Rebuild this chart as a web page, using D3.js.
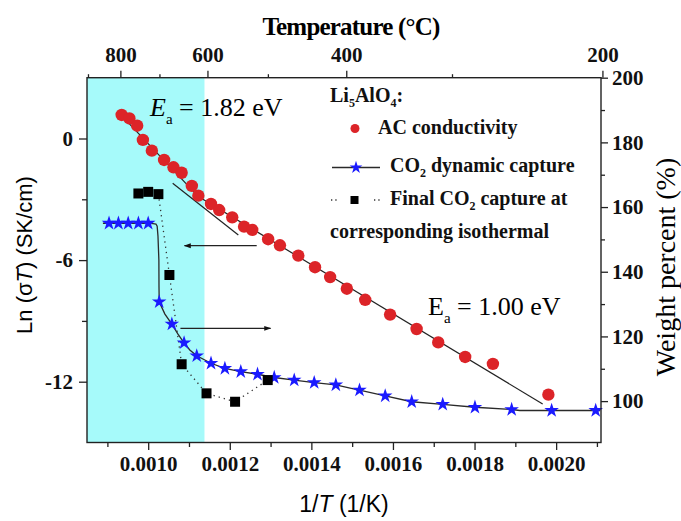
<!DOCTYPE html>
<html>
<head>
<meta charset="utf-8">
<script src="https://cdn.jsdelivr.net/npm/d3@7"></script>
<style>
  body { margin: 0; background: #fff; }
</style>
</head>
<body>
<svg id="chart" width="681" height="521"></svg>
<script>
// ---- data ----
// AC conductivity: 1/T (1/K) and ln(sigma*T)
const acInvT = [0.000935, 0.000954, 0.000973, 0.000987, 0.001009, 0.001039, 0.001062, 0.001082,
  0.001107, 0.001123, 0.001154, 0.001174, 0.001206, 0.001235, 0.001255, 0.001294, 0.001323,
  0.001368, 0.001409, 0.001446, 0.001487, 0.001532, 0.001593, 0.001658, 0.001711, 0.001777,
  0.001845, 0.001981];
const acLnSigmaT = [1.16, 0.99, 0.63, -0.07, -0.60, -1.06, -1.42, -1.69, -2.34, -2.82, -3.23,
  -3.53, -3.89, -4.35, -4.51, -4.97, -5.27, -5.78, -6.35, -6.84, -7.41, -7.96, -8.69, -9.40,
  -10.06, -10.78, -11.12, -12.64];

// Arrhenius fits (end points)
const fitHighInvT = [0.000926, 0.001122];
const fitHighLn = [1.31, -2.84];
const fitLowInvT = [0.0011147, 0.001967];
const fitLowLn = [-2.76, -13.10];
// guide segment across the change of slope
const guideInvT = [0.001060, 0.001221];
const guideLn = [-2.21, -4.76];

// CO2 dynamic capture (TGA trace) and its star markers, weight %
const dynCurveInvT = [0.000889, 0.000904, 0.000927, 0.000951, 0.000976, 0.001000, 0.001012,
  0.001019, 0.001022, 0.001024, 0.0010262, 0.0010265, 0.001027, 0.001041, 0.001058, 0.001073,
  0.001088, 0.001102, 0.001119, 0.001154, 0.001188, 0.001227, 0.001268, 0.001309, 0.001358,
  0.001407, 0.001460, 0.001495, 0.001518, 0.001581, 0.001646, 0.001722, 0.001801, 0.001891,
  0.001911, 0.001989, 0.002097, 0.002108];
const dynCurveWeight = [155.0, 155.0, 155.0, 155.0, 155.0, 155.0, 154.9, 154.75, 154.1, 151.0,
  143.6, 135.3, 130.7, 126.9, 123.8, 120.7, 118.0, 115.8, 114.0, 111.7, 110.1, 109.1, 108.3,
  107.3, 106.5, 105.7, 105.0, 104.0, 103.4, 101.6, 99.8, 99.0, 98.1, 97.4, 97.1, 97.1, 97.1, 97.1];
const dynStarInvT = [0.000904, 0.000927, 0.000951, 0.000976, 0.001000, 0.001027, 0.001058,
  0.001088, 0.001119, 0.001154, 0.001188, 0.001227, 0.001268, 0.001309, 0.001358, 0.001407,
  0.001460, 0.001518, 0.001581, 0.001646, 0.001722, 0.001801, 0.001891, 0.001989, 0.002097];
const dynStarWeight = [155.0, 155.0, 155.0, 155.0, 155.0, 130.7, 123.8, 118.0, 114.0, 111.7,
  110.1, 109.1, 108.3, 107.3, 106.5, 105.7, 105.0, 103.4, 101.6, 99.8, 99.0, 98.1, 97.4, 97.1, 97.1];

// Final CO2 capture at the corresponding isothermal
const isoInvT = [0.000976, 0.001000, 0.001025, 0.001052, 0.001082, 0.001143, 0.001213, 0.001293];
const isoWeight = [164.2, 164.7, 164.0, 139.0, 111.4, 102.4, 99.8, 106.5];

// shaded high-temperature band
const bandInvT = [0.00085, 0.001138];

// axis ticks
const bottomTicks = [0.0010, 0.0012, 0.0014, 0.0016, 0.0018, 0.0020];
const bottomMinor = [0.0009, 0.0011, 0.0013, 0.0015, 0.0017, 0.0019, 0.0021];
const leftTicks = [-12, -6, 0];
const leftMinor = [-9, -3];
const rightTicks = [100, 120, 140, 160, 180, 200];
const rightMinor = [110, 130, 150, 170, 190];
const topTempC = [800, 600, 400, 200];
const topMinorC = [900, 700, 500, 300];

// arrows pointing to the axis each series belongs to
const arrowLeftInvT = [0.001266, 0.001089];
const arrowLeftLn = -5.29;
const arrowRightInvT = [0.001079, 0.001300];
const arrowRightWeight = 122.5;

// ---- drawing ----
const SERIF = "'Liberation Serif','Times New Roman',serif";
const SANS = "'Liberation Sans',Arial,sans-serif";
const plot = { left: 87, right: 601, top: 77.7, bottom: 442.5 };

const x = d3.scaleLinear().domain([0.00085, 0.00211]).range([plot.left, plot.right]);
const yL = d3.scaleLinear().domain([-15, 3]).range([plot.bottom, plot.top]);
const yR = d3.scaleLinear().domain([87.2, 200]).range([plot.bottom, plot.top]);
const invT = c => 1 / (c + 273.15);

const svg = d3.select("#chart");
const defs = svg.append("defs");
defs.append("marker").attr("id", "head").attr("viewBox", "0 0 10 10")
  .attr("refX", 9).attr("refY", 5).attr("markerWidth", 10).attr("markerHeight", 7)
  .attr("markerUnits", "userSpaceOnUse").attr("orient", "auto")
  .append("path").attr("d", "M0,1.5 L10,5 L0,8.5 Z").attr("fill", "#111");

// band
svg.append("rect")
  .attr("x", x(bandInvT[0])).attr("y", plot.top)
  .attr("width", x(bandInvT[1]) - x(bandInvT[0]))
  .attr("height", plot.bottom - plot.top)
  .attr("fill", "#a6fafa");

// fits
const fitLine = d3.line().x(d => x(d[0])).y(d => yL(d[1]));
[[fitHighInvT, fitHighLn], [fitLowInvT, fitLowLn], [guideInvT, guideLn]].forEach(([xs, ys]) => {
  svg.append("path").attr("d", fitLine(d3.zip(xs, ys)))
    .attr("stroke", "#222").attr("stroke-width", 1.2).attr("fill", "none");
});

// dynamic capture trace
const wLine = d3.line().x(d => x(d[0])).y(d => yR(d[1]));
svg.append("path").attr("d", wLine(d3.zip(dynCurveInvT, dynCurveWeight)))
  .attr("stroke", "#2a2a2a").attr("stroke-width", 1.3).attr("fill", "none");

// isothermal capture dotted connector
svg.append("path").attr("d", wLine(d3.zip(isoInvT, isoWeight).slice(2)))
  .attr("stroke", "#333").attr("stroke-width", 1.3).attr("fill", "none")
  .attr("stroke-dasharray", "1.3,4");

// AC conductivity circles
svg.append("g").selectAll("circle").data(d3.zip(acInvT, acLnSigmaT)).join("circle")
  .attr("cx", d => x(d[0])).attr("cy", d => yL(d[1])).attr("r", 6.2)
  .attr("fill", "#dc2428");

// stars
const star = d3.symbol(d3.symbolStar, 66);
svg.append("g").selectAll("path").data(d3.zip(dynStarInvT, dynStarWeight)).join("path")
  .attr("d", star).attr("transform", d => `translate(${x(d[0])},${yR(d[1])})`)
  .attr("fill", "#1a1aff");

// squares
const square = d3.symbol(d3.symbolSquare, 100);
svg.append("g").selectAll("path").data(d3.zip(isoInvT, isoWeight)).join("path")
  .attr("d", square).attr("transform", d => `translate(${x(d[0])},${yR(d[1])})`)
  .attr("fill", "#000");

// arrows
svg.append("line")
  .attr("x1", x(arrowLeftInvT[0])).attr("x2", x(arrowLeftInvT[1]))
  .attr("y1", yL(arrowLeftLn)).attr("y2", yL(arrowLeftLn))
  .attr("stroke", "#222").attr("stroke-width", 1.2).attr("marker-end", "url(#head)");
svg.append("line")
  .attr("x1", x(arrowRightInvT[0])).attr("x2", x(arrowRightInvT[1]))
  .attr("y1", yR(arrowRightWeight)).attr("y2", yR(arrowRightWeight))
  .attr("stroke", "#222").attr("stroke-width", 1.2).attr("marker-end", "url(#head)");

// frame
svg.append("rect")
  .attr("x", plot.left).attr("y", plot.top)
  .attr("width", plot.right - plot.left).attr("height", plot.bottom - plot.top)
  .attr("fill", "none").attr("stroke", "#222").attr("stroke-width", 1.4);

// axes
function styleAxis(g) {
  g.select(".domain").remove();
  g.selectAll("line").attr("stroke", "#222").attr("stroke-width", 1.3);
  g.selectAll("text").attr("font-family", SERIF).attr("font-weight", "bold")
    .attr("font-size", 21).attr("fill", "#111");
}
svg.append("g").attr("transform", `translate(0,${plot.bottom})`)
  .call(d3.axisBottom(x).tickValues(bottomTicks).tickFormat(d3.format(".4f")).tickSize(7.5).tickPadding(6))
  .call(styleAxis);
svg.append("g").attr("transform", `translate(0,${plot.bottom})`)
  .call(d3.axisBottom(x).tickValues(bottomMinor).tickFormat("").tickSize(4.5))
  .call(styleAxis);
svg.append("g").attr("transform", `translate(${plot.left},0)`)
  .call(d3.axisLeft(yL).tickValues(leftTicks).tickFormat(d => String(d)).tickSize(8).tickPadding(6))
  .call(styleAxis);
svg.append("g").attr("transform", `translate(${plot.left},0)`)
  .call(d3.axisLeft(yL).tickValues(leftMinor).tickFormat("").tickSize(5))
  .call(styleAxis);
svg.append("g").attr("transform", `translate(${plot.right},0)`)
  .call(d3.axisRight(yR).tickValues(rightTicks).tickSize(7).tickPadding(4))
  .call(styleAxis);
svg.append("g").attr("transform", `translate(${plot.right},0)`)
  .call(d3.axisRight(yR).tickValues(rightMinor).tickFormat("").tickSize(4))
  .call(styleAxis);
svg.append("g").attr("transform", `translate(0,${plot.top})`)
  .call(d3.axisTop(x).tickValues(topTempC.map(invT)).tickFormat((d, i) => topTempC[i]).tickSize(7).tickPadding(9))
  .call(styleAxis);
svg.append("g").attr("transform", `translate(0,${plot.top})`)
  .call(d3.axisTop(x).tickValues(topMinorC.map(invT)).tickFormat("").tickSize(3.5))
  .call(styleAxis);

// axis titles
svg.append("text").attr("x", 351).attr("y", 35).attr("text-anchor", "middle")
  .attr("font-family", SERIF).attr("font-weight", "bold").attr("font-size", 25)
  .attr("letter-spacing", -0.8).text("Temperature  (\u00B0C)");

const bt = svg.append("text").attr("x", 344).attr("y", 512).attr("text-anchor", "middle")
  .attr("font-family", SANS).attr("font-size", 23);
bt.append("tspan").text("1/");
bt.append("tspan").attr("font-style", "italic").text("T");
bt.append("tspan").text(" (1/K)");

const lt = svg.append("text").attr("transform", "translate(32,255) rotate(-90)")
  .attr("text-anchor", "middle").attr("font-family", SANS).attr("font-size", 22);
lt.append("tspan").text("Ln (\u03C3");
lt.append("tspan").attr("font-style", "italic").text("T");
lt.append("tspan").text(") (SK/cm)");

svg.append("text").attr("transform", "translate(675,267) rotate(-90)")
  .attr("text-anchor", "middle").attr("font-family", SERIF).attr("font-size", 28)
  .text("Weight percent (%)");

// activation energy labels
const e1 = svg.append("text").attr("x", 150).attr("y", 116).attr("font-family", SERIF).attr("font-size", 26);
e1.append("tspan").attr("font-style", "italic").text("E");
e1.append("tspan").attr("font-size", 15).attr("dy", 8).text("a");
e1.append("tspan").attr("dy", -8).text(" = 1.82 eV");

const e2 = svg.append("text").attr("x", 428).attr("y", 315).attr("font-family", SERIF).attr("font-size", 26);
e2.append("tspan").text("E");
e2.append("tspan").attr("font-size", 15).attr("dy", 8).text("a");
e2.append("tspan").attr("dy", -8).text(" = 1.00 eV");

// legend
const lg = svg.append("g").attr("font-family", SERIF).attr("font-weight", "bold").attr("font-size", 20).attr("fill", "#111");
const t0 = lg.append("text").attr("x", 330).attr("y", 102);
t0.append("tspan").text("Li");
t0.append("tspan").attr("font-size", 12).attr("dy", 5).text("5");
t0.append("tspan").attr("dy", -5).text("AlO");
t0.append("tspan").attr("font-size", 12).attr("dy", 5).text("4");
t0.append("tspan").attr("dy", -5).text(":");

lg.append("circle").attr("cx", 355).attr("cy", 128.5).attr("r", 4.5).attr("fill", "#dc2428");
lg.append("text").attr("x", 378).attr("y", 134).text("AC conductivity");

lg.append("line").attr("x1", 332).attr("x2", 380).attr("y1", 167.5).attr("y2", 167.5)
  .attr("stroke", "#2a2a2a").attr("stroke-width", 1.3);
lg.append("path").attr("d", d3.symbol(d3.symbolStar, 50)).attr("transform", "translate(356,167.5)").attr("fill", "#1a1aff");
const t2 = lg.append("text").attr("x", 390).attr("y", 172);
t2.append("tspan").text("CO");
t2.append("tspan").attr("font-size", 12).attr("dy", 5).text("2");
t2.append("tspan").attr("dy", -5).text(" dynamic capture");

lg.append("line").attr("x1", 331).attr("x2", 337).attr("y1", 200).attr("y2", 200)
  .attr("stroke", "#333").attr("stroke-width", 1.3).attr("stroke-dasharray", "1.3,3");
lg.append("line").attr("x1", 374).attr("x2", 380).attr("y1", 200).attr("y2", 200)
  .attr("stroke", "#333").attr("stroke-width", 1.3).attr("stroke-dasharray", "1.3,3");
lg.append("rect").attr("x", 350.5).attr("y", 196).attr("width", 8).attr("height", 8).attr("fill", "#000");
const t3 = lg.append("text").attr("x", 390).attr("y", 205);
t3.append("tspan").text("Final CO");
t3.append("tspan").attr("font-size", 12).attr("dy", 5).text("2");
t3.append("tspan").attr("dy", -5).text(" capture at");
lg.append("text").attr("x", 330).attr("y", 238).text("corresponding isothermal");
</script>
</body>
</html>
